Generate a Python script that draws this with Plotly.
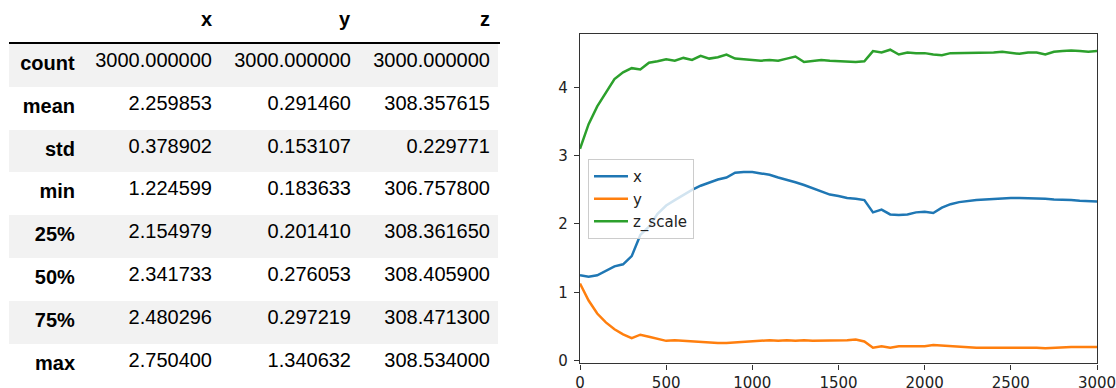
import plotly.graph_objects as go

# ---------------- table data (pandas describe output) ----------------
stat_names = ["count", "mean", "std", "min", "25%", "50%", "75%", "max"]
col_names = ["x", "y", "z"]
col_x = ["3000.000000", "2.259853", "0.378902", "1.224599", "2.154979", "2.341733", "2.480296", "2.750400"]
col_y = ["3000.000000", "0.291460", "0.153107", "0.183633", "0.201410", "0.276053", "0.297219", "1.340632"]
col_z = ["3000.000000", "308.357615", "0.229771", "306.757800", "308.361650", "308.405900", "308.471300", "308.534000"]

# ---------------- line chart data ----------------
steps = list(range(0, 3001, 50))
x_series = [1.25, 1.23, 1.25, 1.31, 1.38, 1.41, 1.53, 1.84, 1.96, 2.15,
            2.27, 2.35, 2.43, 2.50, 2.56, 2.61, 2.65, 2.68, 2.75, 2.76,
            2.76, 2.74, 2.72, 2.68, 2.65, 2.61, 2.57, 2.52, 2.47, 2.43,
            2.41, 2.38, 2.37, 2.35, 2.17, 2.21, 2.14, 2.13, 2.14, 2.17,
            2.18, 2.16, 2.24, 2.29, 2.32, 2.34, 2.35, 2.36, 2.37, 2.37,
            2.38, 2.38, 2.38, 2.38, 2.37, 2.36, 2.36, 2.35, 2.34, 2.34, 2.33]
y_series = [1.13, 0.88, 0.69, 0.56, 0.46, 0.385, 0.33, 0.38, 0.35, 0.32,
            0.29, 0.30, 0.29, 0.28, 0.27, 0.27, 0.26, 0.26, 0.27, 0.28,
            0.29, 0.29, 0.30, 0.29, 0.30, 0.29, 0.30, 0.29, 0.29, 0.29,
            0.30, 0.30, 0.31, 0.28, 0.19, 0.21, 0.19, 0.21, 0.21, 0.21,
            0.21, 0.23, 0.22, 0.21, 0.20, 0.19, 0.19, 0.19, 0.19, 0.19,
            0.20, 0.20, 0.19, 0.19, 0.18, 0.19, 0.20, 0.20, 0.20, 0.20, 0.20]
z_scale_series = [3.10, 3.46, 3.72, 3.93, 4.12, 4.22, 4.28, 4.26, 4.36, 4.38,
                  4.41, 4.39, 4.43, 4.40, 4.46, 4.42, 4.44, 4.48, 4.42, 4.41,
                  4.40, 4.39, 4.40, 4.39, 4.42, 4.45, 4.37, 4.39, 4.40, 4.39,
                  4.38, 4.37, 4.37, 4.38, 4.53, 4.51, 4.55, 4.48, 4.51, 4.50,
                  4.50, 4.48, 4.47, 4.50, 4.50, 4.51, 4.51, 4.50, 4.51, 4.52,
                  4.51, 4.49, 4.51, 4.51, 4.48, 4.52, 4.53, 4.54, 4.53, 4.52, 4.53]

x_ticks = [0, 500, 1000, 1500, 2000, 2500, 3000]
y_ticks = [0, 1, 2, 3, 4]

W, H = 1116, 388
shade = "#f2f2f2"
row_fill = [shade if i % 2 == 0 else "white" for i in range(len(stat_names))]

fig = go.Figure()

fig.add_trace(go.Table(
    domain=dict(x=[9 / W, 498 / W], y=[0.0, 1.0]),
    columnwidth=[74, 137, 139, 139],
    header=dict(
        values=[""] + ["<b>%s</b>" % c for c in col_names],
        align="right",
        height=44,
        fill_color="white",
        line=dict(width=0, color="white"),
        font=dict(family="Liberation Sans, Arial", size=20, color="black"),
    ),
    cells=dict(
        values=[["<b>%s</b>" % s for s in stat_names], col_x, col_y, col_z],
        align="right",
        height=42.8,
        fill_color=[row_fill] * 4,
        line=dict(width=0, color="white"),
        font=dict(family="Liberation Sans, Arial", size=20, color="black"),
    ),
))

colors = {"x": "#1f77b4", "y": "#ff7f0e", "z_scale": "#2ca02c"}
for name, vals in [("x", x_series), ("y", y_series), ("z_scale", z_scale_series)]:
    fig.add_trace(go.Scatter(
        x=steps, y=vals, mode="lines", name=name,
        line=dict(color=colors[name], width=2.5),
    ))

axis_common = dict(
    showline=True, linecolor="#333333", linewidth=1.2, mirror=True,
    ticks="outside", ticklen=5, tickwidth=1.2, tickcolor="#333333",
    showgrid=False, zeroline=False, automargin=False,
    ticklabeloverflow="allow",
    tickfont=dict(family="DejaVu Sans", size=15, color="#222222"),
)

fig.update_layout(
    width=W, height=H,
    margin=dict(l=0, r=0, t=0, b=0, autoexpand=False),
    paper_bgcolor="white", plot_bgcolor="white",
    xaxis=dict(domain=[580 / W, 1097 / W], range=[0, 3000],
               tickvals=x_ticks, ticktext=[str(v) for v in x_ticks], **axis_common),
    yaxis=dict(domain=[1 - 363.4 / H, 1 - 34 / H], range=[-0.04, 4.78],
               tickvals=y_ticks, ticktext=[str(v) for v in y_ticks],
               ticklabelstandoff=3, **axis_common),
    showlegend=True,
    legend=dict(
        x=588 / W, y=1 - 159 / H, xanchor="left", yanchor="top",
        bgcolor="rgba(255,255,255,0.8)", bordercolor="#cccccc", borderwidth=1,
        font=dict(family="DejaVu Sans", size=15, color="#222222"),
        itemwidth=34,
    ),
    shapes=[dict(type="line", xref="paper", yref="paper",
                 x0=9 / W, x1=500 / W, y0=1 - 43 / H, y1=1 - 43 / H,
                 line=dict(color="black", width=2))],
)

fig.write_html("out.html", config={"displayModeBar": False},
               post_script="document.body.style.margin='0px';")
